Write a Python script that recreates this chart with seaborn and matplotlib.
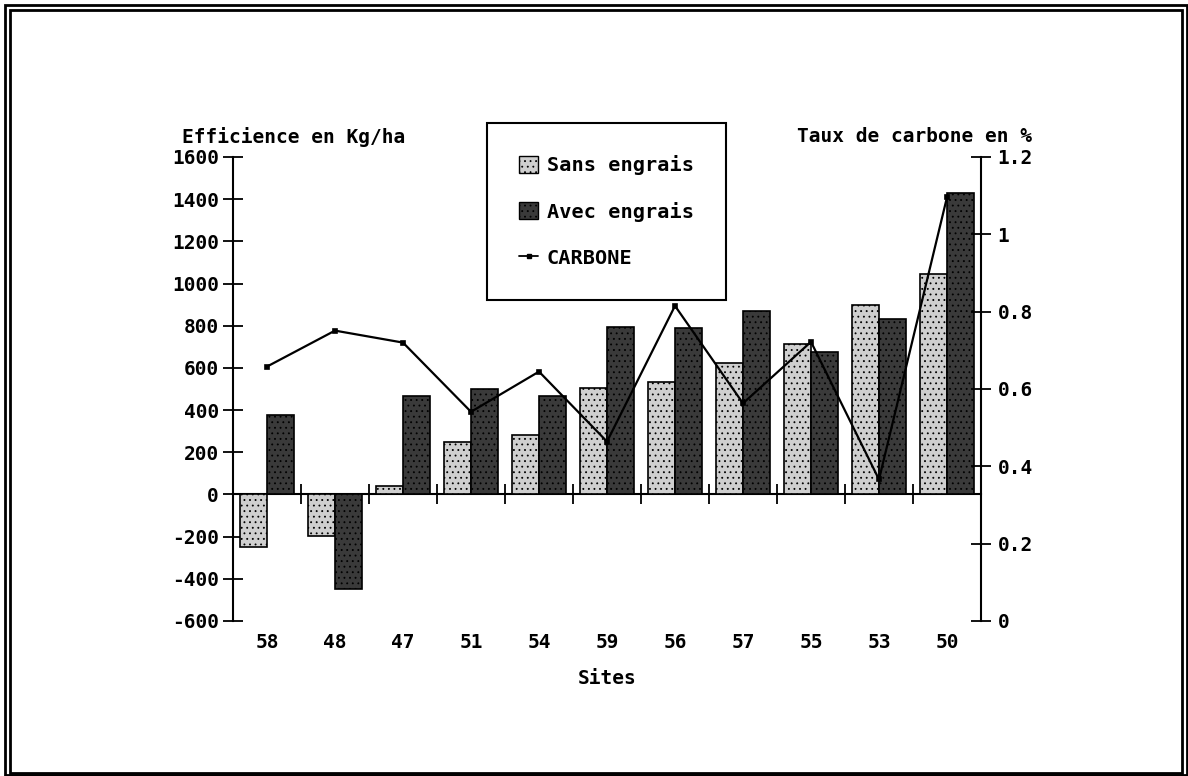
import numpy as np
import pandas as pd
import matplotlib
matplotlib.use("Agg")
import matplotlib.pyplot as plt
import seaborn as sns
from matplotlib.patches import Patch, Rectangle
from matplotlib.lines import Line2D

# Sites and measured values
sites = ["58", "48", "47", "51", "54", "59", "56", "57", "55", "53", "50"]
sans_engrais = [-250, -195, 40, 248, 284, 505, 533, 623, 715, 896, 1045]
avec_engrais = [375, -450, 465, 502, 468, 794, 787, 872, 674, 832, 1428]
carbone = [0.658, 0.751, 0.720, 0.541, 0.645, 0.464, 0.815, 0.563, 0.722, 0.366, 1.096]

left_ticks = list(range(-600, 1601, 200))
right_ticks = [0, 0.2, 0.4, 0.6, 0.8, 1.0, 1.2]
right_labels = ["0", "0.2", "0.4", "0.6", "0.8", "1", "1.2"]

series = ["Sans engrais", "Avec engrais"]
colors = {"Sans engrais": "#cfcfcf", "Avec engrais": "#3a3a3a"}

sns.set_theme(style="white")
plt.rcParams["font.family"] = ["DejaVu Sans Mono"]
plt.rcParams["font.weight"] = "bold"
plt.rcParams["text.color"] = "black"
plt.rcParams["axes.labelcolor"] = "black"
plt.rcParams["xtick.color"] = "black"
plt.rcParams["ytick.color"] = "black"
plt.rcParams["hatch.linewidth"] = 0.6
FS = 14

df = pd.DataFrame({
    "Site": sites * 2,
    "Efficience": sans_engrais + avec_engrais,
    "Traitement": [series[0]] * len(sites) + [series[1]] * len(sites),
})

W, H = 1188, 776
fig = plt.figure(figsize=(W / 100, H / 100), dpi=100)
ax = fig.add_axes([233 / W, 1 - 621 / H, (981 - 233) / W, (621 - 157) / H])

sns.barplot(data=df, x="Site", y="Efficience", hue="Traitement",
            order=sites, hue_order=series, palette=colors, saturation=1,
            edgecolor="black", linewidth=1.2, width=0.8, errorbar=None,
            legend=False, ax=ax)
for cont in ax.containers:
    for bar in cont:
        bar.set_hatch("...")

ax.set_xlim(-0.5, len(sites) - 0.5)
ax.set_ylim(-600, 1600)
ax.set_yticks(left_ticks)
ax.set_yticklabels([str(t) for t in left_ticks], fontsize=FS, fontweight="bold", color="black")
ax.tick_params(axis="y", direction="inout", length=14, width=1.3, color="black", pad=3)
ax.tick_params(axis="x", length=0, pad=9, labelsize=FS, labelcolor="black")
for lab in ax.get_xticklabels():
    lab.set_fontweight("bold")
for side in ["top", "bottom", "right"]:
    ax.spines[side].set_visible(False)
ax.spines["left"].set_color("black")
ax.spines["left"].set_linewidth(1.5)
ax.set_ylabel("")
ax.set_xlabel("Sites", fontsize=FS, fontweight="bold", labelpad=12, color="black")

# zero line with ticks between sites
zero_axis = ax.secondary_xaxis(0, transform=ax.transData)
zero_axis.set_xticks(np.arange(len(sites) - 1) + 0.5)
zero_axis.tick_params(direction="inout", length=14, width=1.3, color="black", labelbottom=False)
zero_axis.spines["bottom"].set_color("black")
zero_axis.spines["bottom"].set_linewidth(1.5)

# carbon rate on the right axis
ax2 = ax.twinx()
sns.pointplot(x=sites, y=carbone, order=sites, color="black", markers="s",
              markersize=3, linewidth=1.6, errorbar=None, ax=ax2)
ax2.set_xlim(-0.5, len(sites) - 0.5)
ax2.set_ylim(0, 1.2)
ax2.set_yticks(right_ticks)
ax2.set_yticklabels(right_labels, fontsize=FS, fontweight="bold", color="black")
ax2.tick_params(axis="y", direction="inout", length=14, width=1.3, color="black", pad=5)
for side in ["top", "bottom", "left"]:
    ax2.spines[side].set_visible(False)
ax2.spines["right"].set_color("black")
ax2.spines["right"].set_linewidth(1.5)
ax2.set_ylabel("")

fig.text(182 / W, 1 - 137 / H, "Efficience en Kg/ha", ha="left", va="center",
         fontsize=FS, fontweight="bold", color="black")
fig.text(1032 / W, 1 - 137 / H, "Taux de carbone en %", ha="right", va="center",
         fontsize=FS, fontweight="bold", color="black")

handles = [
    Patch(facecolor=colors[series[0]], edgecolor="black", hatch="...", linewidth=1),
    Patch(facecolor=colors[series[1]], edgecolor="black", hatch="...", linewidth=1),
    Line2D([], [], color="black", lw=1.3, marker="s", markersize=3),
]
leg = fig.legend(handles, [series[0], series[1], "CARBONE"], loc="upper left",
                 bbox_to_anchor=(487 / W, 1 - 123 / H), borderaxespad=0,
                 frameon=True, fancybox=False,
                 edgecolor="black", framealpha=1, borderpad=1.6, labelspacing=1.3,
                 handlelength=0.9, handleheight=0.9, handletextpad=0.45,
                 prop={"size": 14.6, "weight": "bold", "family": "DejaVu Sans Mono"})
leg.get_frame().set_linewidth(1.5)
for txt in leg.get_texts():
    txt.set_color("black")

# double page border
for x0, y0, x1, y1 in [(5, 5, 1187, 775), (10, 10, 1182, 773)]:
    fig.patches.append(Rectangle((x0 / W, 1 - y1 / H), (x1 - x0) / W, (y1 - y0) / H,
                                 transform=fig.transFigure, fill=False,
                                 edgecolor="black", linewidth=2))

fig.savefig("out.png", dpi=100)
